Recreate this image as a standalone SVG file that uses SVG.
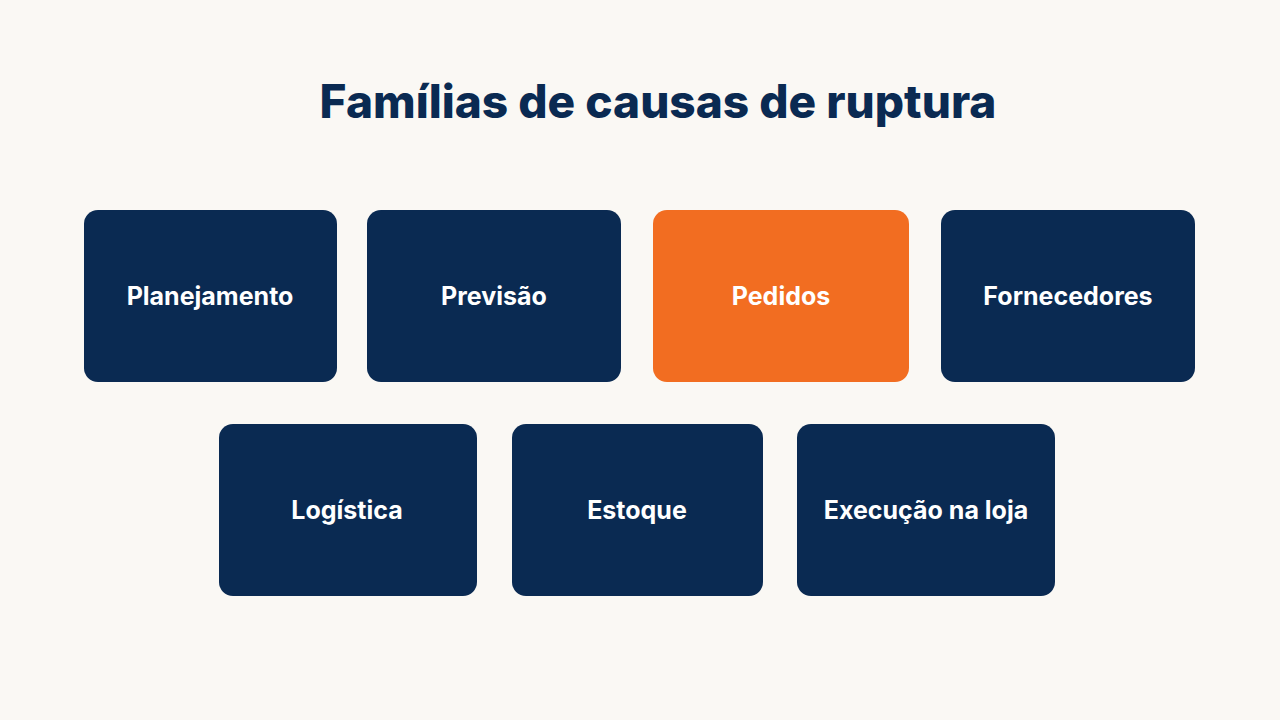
<svg xmlns="http://www.w3.org/2000/svg" width="1280" height="720" viewBox="0 0 1280 720">
<style>
.n{fill:#0A2A52}
.o{fill:#F26D21}
.t{font-family:Inter,"Liberation Sans",sans-serif;font-weight:700;font-size:25px;fill:#fff;text-anchor:middle;dominant-baseline:central}
.h{font-family:Inter,"Liberation Sans",sans-serif;font-weight:800;font-size:46px;fill:#0A2A52;text-anchor:middle}
</style>
<rect width="1280" height="720" fill="#FAF8F4"/>
<text class="h" x="658" y="118">Famílias de causas de ruptura</text>
<g id="connectors"/>
<g id="n1"><rect class="n" x="84" y="210" width="253" height="172" rx="14"/><text class="t" x="210" y="296">Planejamento</text></g>
<g id="n2"><rect class="n" x="367" y="210" width="254" height="172" rx="14"/><text class="t" x="494" y="296">Previsão</text></g>
<g id="n3"><rect class="o" x="653" y="210" width="256" height="172" rx="14"/><text class="t" x="781" y="296">Pedidos</text></g>
<g id="n4"><rect class="n" x="941" y="210" width="254" height="172" rx="14"/><text class="t" x="1068" y="296">Fornecedores</text></g>
<g id="n5"><rect class="n" x="219" y="424" width="258" height="172" rx="14"/><text class="t" x="347" y="510">Logística</text></g>
<g id="n6"><rect class="n" x="512" y="424" width="251" height="172" rx="14"/><text class="t" x="637" y="510">Estoque</text></g>
<g id="n7"><rect class="n" x="797" y="424" width="258" height="172" rx="14"/><text class="t" x="926" y="510">Execução na loja</text></g>
</svg>
